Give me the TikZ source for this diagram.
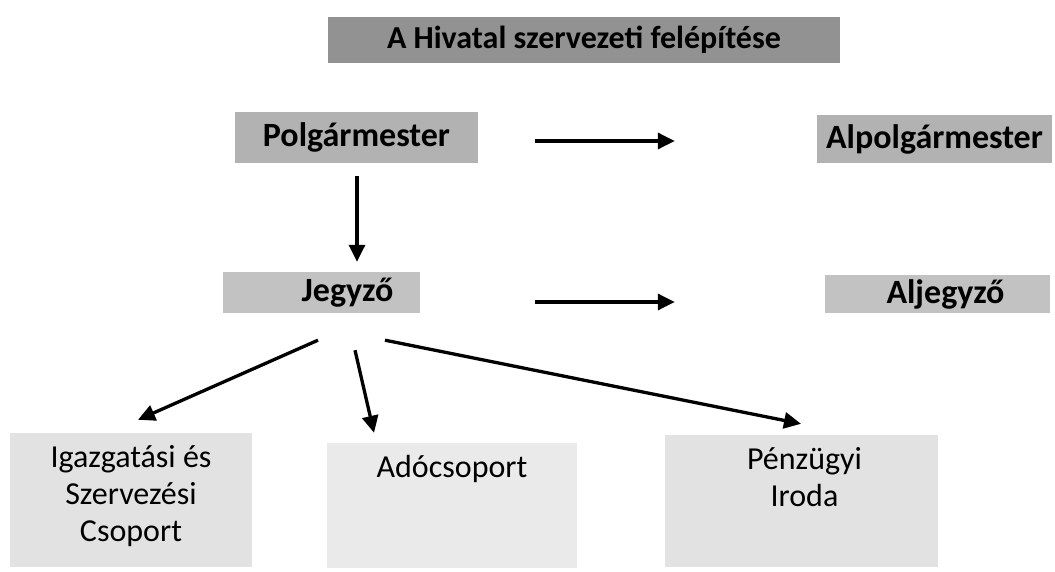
\documentclass[tikz,border=0pt]{standalone}
\usepackage{fontspec}
\setmainfont{Carlito}
\usepackage{xcolor}
\usepackage{tikz}
\usetikzlibrary{arrows.meta,positioning}
\definecolor{titlegray}{HTML}{929292}
\definecolor{polggray}{HTML}{B2B2B2}
\definecolor{jegygray}{HTML}{C2C2C2}
\definecolor{unitgray}{HTML}{E2E2E2}
\definecolor{adogray}{HTML}{EAEAEA}
\tikzset{
  >={Triangle[length=17pt,width=16pt]},
  head/.style={fill=#1,inner sep=0pt,font=\fontsize{34}{40}\selectfont\bfseries},
  unit/.style={fill=#1,inner sep=0pt},
  unittext/.style={inner sep=0pt,align=center,anchor=north,font=\fontsize{32}{37}\selectfont},
  arr/.style={->,line width=3.3pt,color=black},
}
\begin{document}
\begin{tikzpicture}[x=1pt,y=-1pt]
  \useasboundingbox (0,0) rectangle (1055,572);
  \node[head=titlegray,minimum width=512pt,minimum height=46pt,font=\fontsize{32}{38}\selectfont\bfseries] (title) at (584,40) {A Hivatal szervezeti felépítése};
  \node[head=polggray,minimum width=243pt,minimum height=51pt] (polg) at (356.5,137.5) {\raisebox{-4pt}{Polgármester}};
  \node[head=polggray,minimum width=235pt,minimum height=48pt] (alpolg) at (934.5,139) {\raisebox{-3pt}{Alpolgármester}};
  \node[head=jegygray,minimum width=197pt,minimum height=41pt] (jegyzo) at (321.5,292.5) {\hspace*{52pt}\raisebox{-5pt}{Jegyző}};
  \node[head=jegygray,minimum width=225pt,minimum height=38pt] (aljegyzo) at (937.5,294) {\hspace*{16pt}\raisebox{-4pt}{Aljegyző}};
  \node[unit=unitgray,minimum width=242pt,minimum height=134pt] (igazg) at (131,500) {};
  \node[unit=adogray,minimum width=250pt,minimum height=125pt] (ado) at (452,505.5) {};
  \node[unit=unitgray,minimum width=273pt,minimum height=132pt] (penz) at (801.5,501) {};
  \node[unittext,below=12pt of igazg.north] (igazgtxt) {Igazgatási és\\Szervezési\\Csoport};
  \node[unittext,below=12pt of ado.north] (adotxt) {Adócsoport};
  \node[unittext,below=12pt of penz.north,xshift=3pt] (penztxt) {Pénzügyi\\Iroda};
  \draw[arr] ([shift={(57,3.5)}]polg.east) -- ([shift={(-142,2)}]alpolg.west);
  \draw[arr] ([shift={(115,9.5)}]jegyzo.east) -- ([shift={(-150,8)}]aljegyzo.west);
  \draw[arr] ([shift={(0.5,13)}]polg.south) -- ([shift={(35.5,-10)}]jegyzo.north);
  \draw[arr] ([shift={(-3.5,27)}]jegyzo.south) -- ([shift={(7,-13)}]igazg.north);
  \draw[arr] ([shift={(33.5,37)}]jegyzo.south) -- ([shift={(-78,-10)}]ado.north);
  \draw[arr] ([shift={(63.5,27)}]jegyzo.south) -- ([shift={(-0.5,-11)}]penz.north);
\end{tikzpicture}
\end{document}
